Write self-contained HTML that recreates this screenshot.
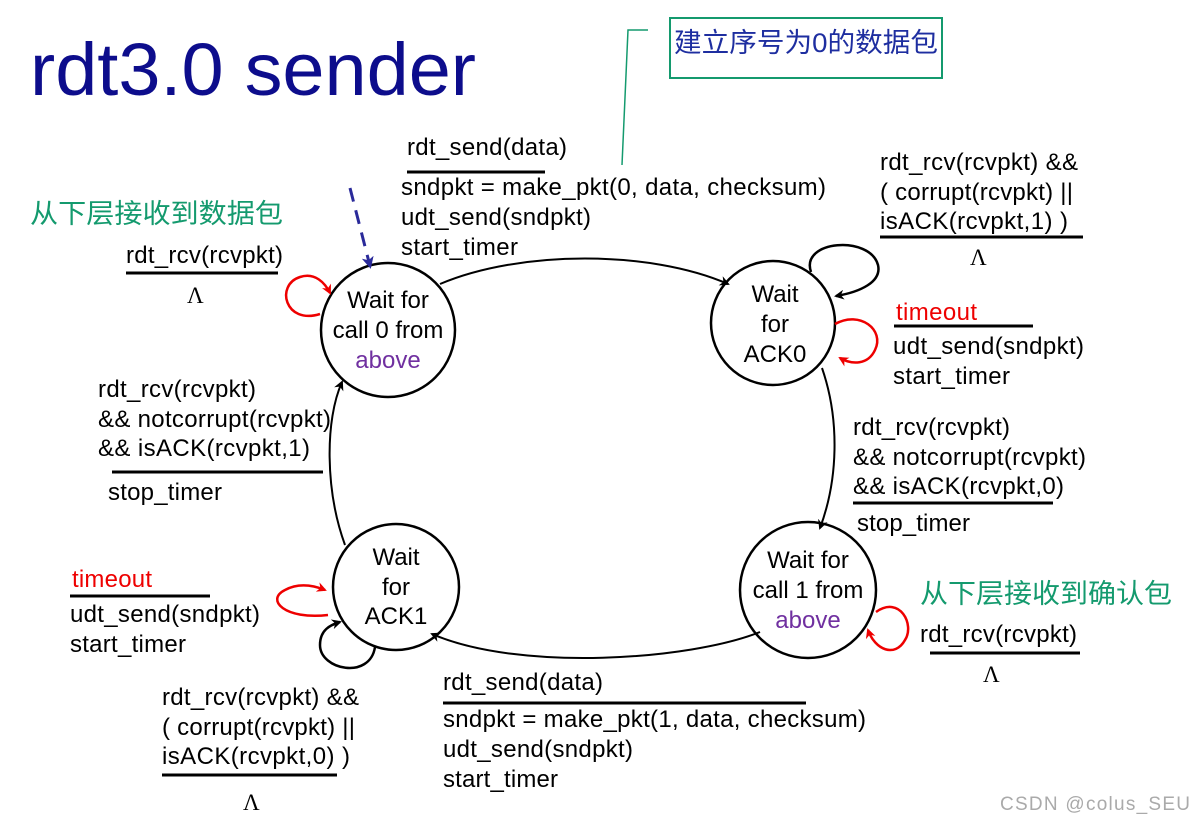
<!DOCTYPE html>
<html><head><meta charset="utf-8"><style>
html,body{margin:0;padding:0;background:#fff}
svg{display:block}
text{font-family:"Liberation Sans","Noto Sans CJK SC",sans-serif;font-size:24px;fill:#000}
.cn{font-size:27px;fill:#149a6e}
.r{fill:#e00}
.p{fill:#7030a0}
.l{font-family:"Liberation Serif",serif;font-size:23px}
</style></head><body>
<svg width="1194" height="823" viewBox="0 0 1194 823">
<defs>
<marker id="a" markerWidth="10" markerHeight="10" refX="8" refY="5" orient="auto" markerUnits="userSpaceOnUse"><path d="M0,0 L10,5 L0,10 L3,5 z" fill="#000"/></marker>
<marker id="ar" markerWidth="10" markerHeight="10" refX="8" refY="5" orient="auto" markerUnits="userSpaceOnUse"><path d="M0,0 L10,5 L0,10 L3,5 z" fill="#e00"/></marker>
<marker id="ab" markerWidth="12" markerHeight="12" refX="9" refY="6" orient="auto" markerUnits="userSpaceOnUse"><path d="M0,0 L12,6 L0,12 L3,6 z" fill="#2a2a9a"/></marker>
</defs>
<text x="30" y="95" style="font-size:74px;fill:#0d0d8c" textLength="446" lengthAdjust="spacingAndGlyphs">rdt3.0 sender</text>
<rect x="670" y="18" width="272" height="60" fill="none" stroke="#149a6e" stroke-width="2"/>
<text x="674" y="52" style="font-size:27px;fill:#1e2ea0" textLength="264" lengthAdjust="spacingAndGlyphs">建立序号为0的数据包</text>
<polyline points="648,30 628,30 622,165" fill="none" stroke="#149a6e" stroke-width="1.5"/>
<text x="30" y="223" class="cn" textLength="253" lengthAdjust="spacingAndGlyphs">从下层接收到数据包</text>
<text x="920" y="603" class="cn" textLength="252" lengthAdjust="spacingAndGlyphs">从下层接收到确认包</text>
<circle cx="388" cy="330" r="67" fill="none" stroke="#000" stroke-width="2.5"/>
<circle cx="773" cy="323" r="62" fill="none" stroke="#000" stroke-width="2.5"/>
<circle cx="396" cy="587" r="63" fill="none" stroke="#000" stroke-width="2.5"/>
<circle cx="808" cy="590" r="68" fill="none" stroke="#000" stroke-width="2.5"/>
<text x="388" y="308" text-anchor="middle">Wait for</text>
<text x="388" y="338" text-anchor="middle">call 0 from</text>
<text x="388" y="368" text-anchor="middle" class="p">above</text>
<text x="775" y="302" text-anchor="middle">Wait</text>
<text x="775" y="332" text-anchor="middle">for</text>
<text x="775" y="362" text-anchor="middle">ACK0</text>
<text x="396" y="565" text-anchor="middle">Wait</text>
<text x="396" y="595" text-anchor="middle">for</text>
<text x="396" y="624" text-anchor="middle">ACK1</text>
<text x="808" y="568" text-anchor="middle">Wait for</text>
<text x="808" y="598" text-anchor="middle">call 1 from</text>
<text x="808" y="628" text-anchor="middle" class="p">above</text>
<line x1="350" y1="188" x2="370" y2="266" stroke="#2a2a9a" stroke-width="3" stroke-dasharray="14,9" marker-end="url(#ab)"/>
<path d="M440,284 C520,250 650,250 728,284" fill="none" stroke="#000" stroke-width="2" marker-end="url(#a)"/>
<path d="M822,368 C840,420 838,480 820,528" fill="none" stroke="#000" stroke-width="2" marker-end="url(#a)"/>
<path d="M760,632 C690,660 520,672 432,634" fill="none" stroke="#000" stroke-width="2" marker-end="url(#a)"/>
<path d="M345,545 C325,490 325,420 342,382" fill="none" stroke="#000" stroke-width="2" marker-end="url(#a)"/>
<path d="M320,314 C285,325 275,285 300,277 C315,272 325,283 330,293" fill="none" stroke="#e00" stroke-width="2.5" marker-end="url(#ar)"/>
<path d="M811,272 C800,240 870,235 878,265 C882,282 860,292 836,296" fill="none" stroke="#000" stroke-width="2.5" marker-end="url(#a)"/>
<path d="M835,324 C860,310 885,330 875,350 C868,365 852,365 840,358" fill="none" stroke="#e00" stroke-width="2.5" marker-end="url(#ar)"/>
<path d="M328,615 C285,620 265,600 285,590 C300,582 315,586 325,590" fill="none" stroke="#e00" stroke-width="2.5" marker-end="url(#ar)"/>
<path d="M375,647 C370,680 320,670 320,645 C320,630 330,625 340,622" fill="none" stroke="#000" stroke-width="2.5" marker-end="url(#a)"/>
<path d="M876,612 C900,595 915,625 905,640 C895,658 875,650 868,630" fill="none" stroke="#e00" stroke-width="2.5" marker-end="url(#ar)"/>
<text x="407" y="155" textLength="160">rdt_send(data)</text>
<line x1="407" y1="172" x2="545" y2="172" stroke="#000" stroke-width="3"/>
<text x="401" y="195" textLength="425">sndpkt = make_pkt(0, data, checksum)</text>
<text x="401" y="225" textLength="190">udt_send(sndpkt)</text>
<text x="401" y="255" textLength="117">start_timer</text>
<text x="126" y="263" textLength="157">rdt_rcv(rcvpkt)</text>
<line x1="126" y1="273" x2="278" y2="273" stroke="#000" stroke-width="3"/>
<text x="187" y="303" class="l">Λ</text>
<text x="880" y="170" textLength="198">rdt_rcv(rcvpkt) &amp;&amp;</text>
<text x="880" y="200" textLength="193">( corrupt(rcvpkt) ||</text>
<text x="880" y="229" textLength="188">isACK(rcvpkt,1) )</text>
<line x1="880" y1="237" x2="1083" y2="237" stroke="#000" stroke-width="3"/>
<text x="970" y="265" class="l">Λ</text>
<text x="896" y="320" class="r" textLength="81">timeout</text>
<line x1="894" y1="326" x2="1033" y2="326" stroke="#000" stroke-width="3"/>
<text x="893" y="354" textLength="191">udt_send(sndpkt)</text>
<text x="893" y="384" textLength="117">start_timer</text>
<text x="853" y="435" textLength="157">rdt_rcv(rcvpkt)</text>
<text x="853" y="465" textLength="233">&amp;&amp; notcorrupt(rcvpkt)</text>
<text x="853" y="494" textLength="211">&amp;&amp; isACK(rcvpkt,0)</text>
<line x1="853" y1="503" x2="1053" y2="503" stroke="#000" stroke-width="3"/>
<text x="857" y="531" textLength="113">stop_timer</text>
<text x="98" y="397" textLength="158">rdt_rcv(rcvpkt)</text>
<text x="98" y="427" textLength="233">&amp;&amp; notcorrupt(rcvpkt)</text>
<text x="98" y="456" textLength="212">&amp;&amp; isACK(rcvpkt,1)</text>
<line x1="112" y1="472" x2="323" y2="472" stroke="#000" stroke-width="3"/>
<text x="108" y="500" textLength="114">stop_timer</text>
<text x="72" y="587" class="r" textLength="80">timeout</text>
<line x1="70" y1="596" x2="210" y2="596" stroke="#000" stroke-width="3"/>
<text x="70" y="622" textLength="190">udt_send(sndpkt)</text>
<text x="70" y="652" textLength="116">start_timer</text>
<text x="162" y="705" textLength="197">rdt_rcv(rcvpkt) &amp;&amp;</text>
<text x="162" y="735" textLength="193">( corrupt(rcvpkt) ||</text>
<text x="162" y="764" textLength="188">isACK(rcvpkt,0) )</text>
<line x1="162" y1="775" x2="337" y2="775" stroke="#000" stroke-width="3"/>
<text x="243" y="810" class="l">Λ</text>
<text x="443" y="690" textLength="160">rdt_send(data)</text>
<line x1="443" y1="703" x2="806" y2="703" stroke="#000" stroke-width="3"/>
<text x="443" y="727" textLength="423">sndpkt = make_pkt(1, data, checksum)</text>
<text x="443" y="757" textLength="190">udt_send(sndpkt)</text>
<text x="443" y="787" textLength="115">start_timer</text>
<text x="920" y="642" textLength="157">rdt_rcv(rcvpkt)</text>
<line x1="930" y1="653" x2="1080" y2="653" stroke="#000" stroke-width="3"/>
<text x="983" y="682" class="l">Λ</text>
<text x="1000" y="810" style="font-size:19px;fill:#aaa" textLength="190">CSDN @colus_SEU</text>
</svg>
</body></html>
